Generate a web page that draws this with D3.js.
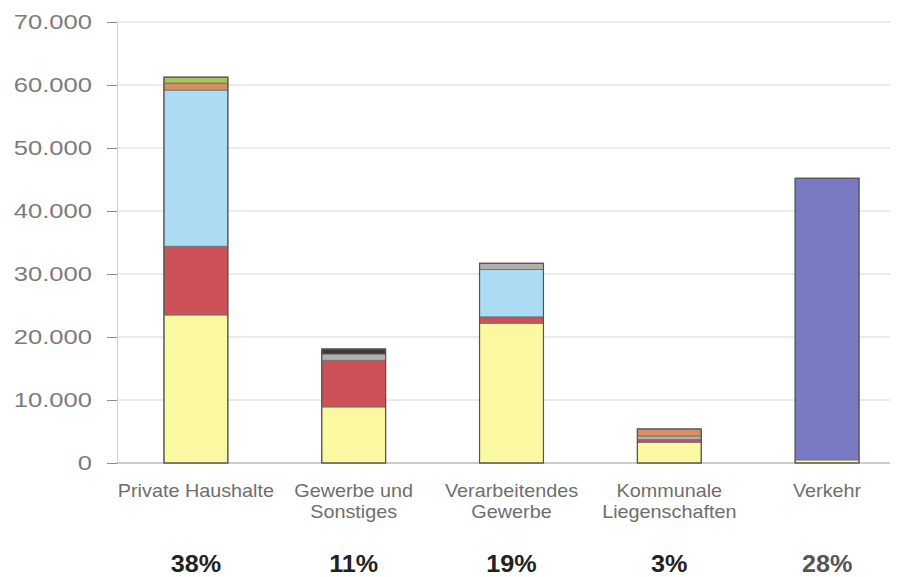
<!DOCTYPE html>
<html>
<head>
<meta charset="utf-8">
<script src="https://cdn.jsdelivr.net/npm/d3@7/dist/d3.min.js"></script>
<style>
  html, body { margin: 0; padding: 0; background: #fff; }
  svg { display: block; }
  text { font-family: "Liberation Sans", Arial, sans-serif; }
</style>
</head>
<body>
<svg id="chart" width="901" height="577"></svg>
<script>
// Energy consumption by sector, stacked by energy carrier
const categories = ["Private Haushalte", "Gewerbe und Sonstiges", "Verarbeitendes Gewerbe", "Kommunale Liegenschaften", "Verkehr"];
const categoryLines = [["Private Haushalte"], ["Gewerbe und", "Sonstiges"], ["Verarbeitendes", "Gewerbe"], ["Kommunale", "Liegenschaften"], ["Verkehr"]];
const shares = ["38%", "11%", "19%", "3%", "28%"];

// Stack order from bottom to top
const seriesNames = ["Strom", "Erdgas", "Heizöl", "Sonstige", "Flüssiggas", "Erneuerbare", "Kohle", "Kraftstoffe"];
const strom       = [23500, 8900, 22200, 3300, 500];
const erdgas      = [10900, 7400, 1000, 400, 0];
const heizoel     = [24800, 0, 7500, 0, 0];
const sonstige    = [0, 1000, 1000, 600, 0];
const fluessiggas = [1100, 0, 0, 1100, 0];
const erneuerbare = [950, 0, 0, 0, 0];
const kohle       = [0, 800, 0, 0, 0];
const kraftstoffe = [0, 0, 0, 0, 44700];
const seriesValues = [strom, erdgas, heizoel, sonstige, fluessiggas, erneuerbare, kohle, kraftstoffe];
const seriesColors = ["#fbf8a2", "#cc5257", "#abdcf3", "#b3b0ab", "#d98f63", "#a8c45e", "#3a3a3a", "#7a7ac4"];

const yTicks = [0, 10000, 20000, 30000, 40000, 50000, 60000, 70000];
const yTickLabels = ["0", "10.000", "20.000", "30.000", "40.000", "50.000", "60.000", "70.000"];

const svg = d3.select("#chart");
const plot = { left: 117, right: 906, top: 22, bottom: 463 };

const x = d3.scaleBand().domain(categories).range([plot.left, plot.right]).paddingInner(0.595).paddingOuter(0.2975);
const y = d3.scaleLinear().domain([0, 70000]).range([plot.bottom, plot.top]);

// Gridlines
svg.append("g").selectAll("line").data(yTicks.slice(1)).join("line")
  .attr("x1", plot.left).attr("x2", 890)
  .attr("y1", d => y(d)).attr("y2", d => y(d))
  .attr("stroke", "#d6d6d6").attr("stroke-width", 1);

// Y axis with tick marks on the left
const yAxis = svg.append("g").attr("transform", `translate(${plot.left},0)`)
  .call(d3.axisLeft(y).tickValues(yTicks).tickSize(10).tickFormat(""));
yAxis.select(".domain").attr("stroke", "#d0d0d0");
yAxis.selectAll(".tick line").attr("stroke", "#8a8a8a");

// Baseline
svg.append("line").attr("x1", plot.left).attr("x2", 890)
  .attr("y1", y(0)).attr("y2", y(0)).attr("stroke", "#9a9a9a").attr("stroke-width", 1.2);

// Y tick labels
svg.append("g").selectAll("text").data(yTicks).join("text")
  .attr("transform", (d) => `translate(92,${y(d) + 7}) scale(1.22,1)`)
  .attr("text-anchor", "end")
  .attr("font-size", 21)
  .attr("fill", "#7c7c7c")
  .text((d, i) => yTickLabels[i]);

// Stacked bars
const rows = categories.map((c, i) => {
  const r = { cat: c };
  seriesNames.forEach((s, j) => r[s] = seriesValues[j][i]);
  return r;
});
const stacked = d3.stack().keys(seriesNames)(rows);

svg.append("g").selectAll("g").data(stacked).join("g")
  .attr("fill", (d, i) => seriesColors[i])
  .selectAll("rect").data(d => d.filter(p => p[1] - p[0] > 0)).join("rect")
  .attr("x", d => x(d.data.cat))
  .attr("width", x.bandwidth())
  .attr("y", d => y(d[1]))
  .attr("height", d => y(d[0]) - y(d[1]))
  .attr("stroke", "#6a6a6a").attr("stroke-width", 0.8);

// Outline around each full bar
svg.append("g").selectAll("rect").data(rows).join("rect")
  .attr("x", d => x(d.cat))
  .attr("width", x.bandwidth())
  .attr("y", d => y(d3.sum(seriesNames, s => d[s])))
  .attr("height", d => y(0) - y(d3.sum(seriesNames, s => d[s])))
  .attr("fill", "none").attr("stroke", "#555").attr("stroke-width", 1.2);

// Category labels and shares
const catG = svg.append("g");
categories.forEach((c, i) => {
  const cx = x(c) + x.bandwidth() / 2;
  categoryLines[i].forEach((line, k) => {
    catG.append("text")
      .attr("transform", `translate(${cx},${497 + k * 21}) scale(1.1,1)`)
      .attr("text-anchor", "middle")
      .attr("font-size", 18)
      .attr("fill", "#6e6e6e")
      .text(line);
  });
  catG.append("text")
    .attr("transform", `translate(${cx},${572}) scale(1.05,1)`)
    .attr("text-anchor", "middle")
    .attr("font-size", 24)
    .attr("font-weight", "bold")
    .attr("fill", i === 4 ? "#555" : "#222")
    .text(shares[i]);
});
</script>
</body>
</html>
